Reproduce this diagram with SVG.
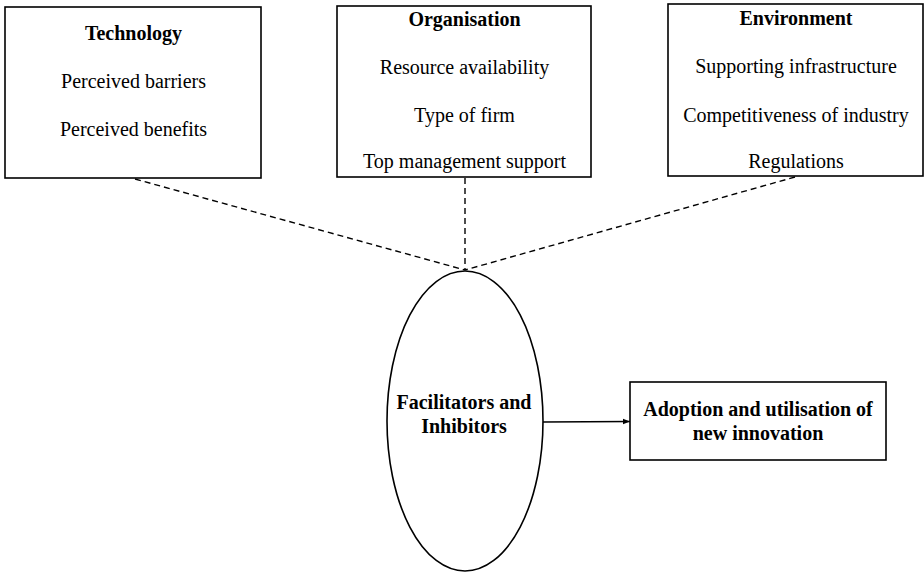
<svg xmlns="http://www.w3.org/2000/svg" width="924" height="572" viewBox="0 0 924 572">
  <style>
    .box { fill: #fff; stroke: #000; stroke-width: 1.6; }
    .t { font-family: "Liberation Serif", "Times New Roman", serif; font-size: 20px; fill: #000; text-anchor: middle; }
    .b { font-weight: bold; }
    .dash { stroke: #000; stroke-width: 1.4; stroke-dasharray: 6 4; fill: none; }
    .solid { stroke: #000; stroke-width: 1.4; fill: none; }
  </style>
  <defs>
    <marker id="arrow" viewBox="0 0 10 10" refX="10" refY="5" markerWidth="7" markerHeight="7" markerUnits="userSpaceOnUse" orient="auto">
      <path d="M0,1 L10,5 L0,9 z" fill="#000"/>
    </marker>
  </defs>
  <rect width="924" height="572" fill="#fff"/>

  <g id="connectors">
    <line class="dash" x1="135" y1="179" x2="465" y2="270"/>
    <line class="dash" x1="465" y1="178" x2="465" y2="270"/>
    <line class="dash" x1="795" y1="177" x2="465" y2="270"/>
    <line class="solid" x1="543" y1="422" x2="630" y2="421.5" marker-end="url(#arrow)"/>
  </g>

  <g id="technology">
    <rect class="box" x="5" y="7" width="256" height="171"/>
    <text class="t b" x="133.5" y="40">Technology</text>
    <text class="t" x="133.5" y="88">Perceived barriers</text>
    <text class="t" x="133.5" y="136">Perceived benefits</text>
  </g>

  <g id="organisation">
    <rect class="box" x="337" y="6" width="254" height="171"/>
    <text class="t b" x="464.5" y="26">Organisation</text>
    <text class="t" x="464.5" y="74">Resource availability</text>
    <text class="t" x="464.5" y="122">Type of firm</text>
    <text class="t" x="464.5" y="168">Top management support</text>
  </g>

  <g id="environment">
    <rect class="box" x="668" y="4" width="255" height="172"/>
    <text class="t b" x="796" y="25">Environment</text>
    <text class="t" x="796" y="73">Supporting infrastructure</text>
    <text class="t" x="796" y="122">Competitiveness of industry</text>
    <text class="t" x="796" y="168">Regulations</text>
  </g>

  <g id="facilitators">
    <ellipse class="box" cx="465" cy="421" rx="78" ry="150"/>
    <text class="t b" x="464" y="409">Facilitators and</text>
    <text class="t b" x="464" y="433">Inhibitors</text>
  </g>

  <g id="adoption">
    <rect class="box" x="630" y="382" width="256" height="78"/>
    <text class="t b" x="758" y="416">Adoption and utilisation of</text>
    <text class="t b" x="758" y="440">new innovation</text>
  </g>
</svg>
